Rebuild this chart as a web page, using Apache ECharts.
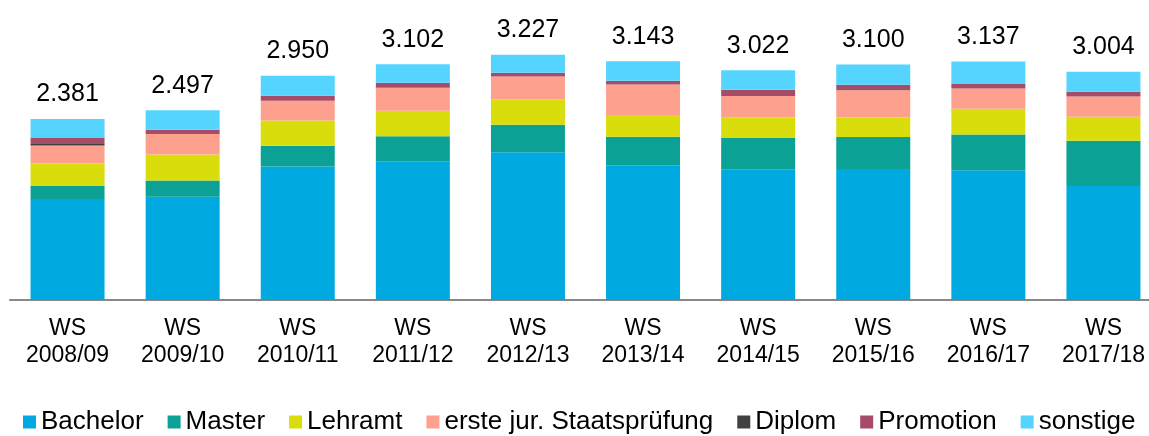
<!DOCTYPE html>
<html>
<head>
<meta charset="utf-8">
<script src="https://cdn.jsdelivr.net/npm/echarts@6/dist/echarts.min.js"></script>
<style>
html,body{margin:0;padding:0;background:#fff;}
#chart{width:1149px;height:436px;}
</style>
</head>
<body>
<div id="chart"></div>
<script>
const categories = ['WS\n2008/09','WS\n2009/10','WS\n2010/11','WS\n2011/12','WS\n2012/13','WS\n2013/14','WS\n2014/15','WS\n2015/16','WS\n2016/17','WS\n2017/18'];
const bachelor      = [1330, 1357, 1756, 1827, 1945, 1774, 1721, 1725, 1708, 1501];
const master        = [171, 215, 273, 329, 360, 373, 412, 421, 469, 593];
const lehramt       = [294, 342, 333, 333, 338, 286, 273, 254, 338, 316];
const staatspruefung= [237, 269, 259, 303, 298, 403, 277, 361, 267, 267];
const diplom        = [22, 0, 0, 0, 0, 0, 0, 0, 0, 0];
const promotion     = [83, 57, 66, 66, 49, 49, 83, 70, 66, 62];
const sonstige      = [244, 257, 263, 244, 237, 258, 256, 269, 289, 265];
const totals        = [2381, 2497, 2950, 3102, 3227, 3143, 3022, 3100, 3137, 3004];

const font = '"Liberation Sans", Arial, sans-serif';
function fmt(v){ return (v/1000).toFixed(3); }

const seriesDefs = [
  {name:'Bachelor', data:bachelor, color:'#00A9E0'},
  {name:'Master', data:master, color:'#0BA194'},
  {name:'Lehramt', data:lehramt, color:'#D9DD0C'},
  {name:'erste jur. Staatsprüfung', data:staatspruefung, color:'#FDA08D'},
  {name:'Diplom', data:diplom, color:'#404040'},
  {name:'Promotion', data:promotion, color:'#A54C69'},
  {name:'sonstige', data:sonstige, color:'#55D4FF'}
];

const series = seriesDefs.map((s, i) => {
  const o = {
    name: s.name, type: 'bar', stack: 'total', data: s.data,
    barWidth: 74,
    itemStyle: {color: s.color},
    emphasis: {disabled: true}
  };
  if (i === seriesDefs.length - 1) {
    o.label = {
      show: true, position: 'top', distance: 12,
      fontFamily: font, fontSize: 25, color: '#000',
      formatter: p => fmt(totals[p.dataIndex])
    };
  }
  return o;
});

const chart = echarts.init(document.getElementById('chart'), null, {renderer:'canvas'});
chart.setOption({
  animation: false,
  backgroundColor: '#fff',
  grid: {left: 10, right: -12, top: 34, bottom: 136, containLabel: false, outerBoundsMode: 'none'},
  xAxis: {
    type: 'category', data: categories,
    axisTick: {show: false},
    axisLine: {lineStyle: {color: '#888', width: 2}},
    axisLabel: {fontFamily: font, fontSize: 23, lineHeight: 27, color: '#000', margin: 15, interval: 0}
  },
  yAxis: {type: 'value', min: 0, max: 3500, show: false, splitLine: {show: false}},
  legend: {
    left: 18, top: 404, itemWidth: 13, itemHeight: 13, itemGap: 24,
    icon: 'rect',
    textStyle: {fontFamily: font, fontSize: 26, color: '#000'},
    data: seriesDefs.map(s => s.name)
  },
  series: series
});
</script>
</body>
</html>
